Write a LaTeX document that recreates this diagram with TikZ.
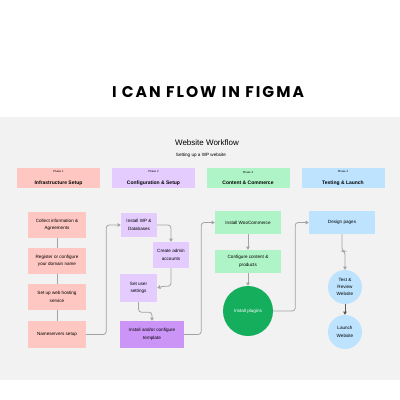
\documentclass[tikz,border=0pt]{standalone}
\usepackage{fontspec}
\setmainfont{Liberation Sans}
\newfontfamily\titlefont[LetterSpace=13]{Poppins}
\usetikzlibrary{arrows.meta}
\definecolor{canvas}{HTML}{F2F2F2}
\definecolor{pinkfill}{HTML}{FFC7C2}
\definecolor{lilac}{HTML}{E4CCFF}
\definecolor{violet}{HTML}{CB94F7}
\definecolor{mint}{HTML}{AFF4C6}
\definecolor{leaf}{HTML}{14AE5C}
\definecolor{sky}{HTML}{BDE3FF}
\definecolor{wire}{HTML}{A3A3A3}
\newcommand{\boxfont}{\fontsize{4.6}{7.4}\selectfont}
\newcommand{\phasehead}[2]{{\fontsize{2.8}{3}\selectfont #1}\\[-0.6pt]{\fontsize{5}{6}\selectfont\bfseries #2}}
\tikzset{
  task/.style={rectangle,align=center,font=\boxfont,inner sep=1pt,minimum height=24},
  phase/.style={rectangle,align=center,inner sep=0pt,minimum width=83,minimum height=20},
  bubble/.style={circle,align=center,font=\boxfont,inner sep=0pt},
  link/.style={draw=wire,line width=0.8pt,rounded corners=3pt},
  flow/.style={link,-{Triangle[length=3.2pt,width=3.6pt]}}
}
\begin{document}
\begin{tikzpicture}[x=1pt,y=-1pt]
		\useasboundingbox (0,0) rectangle (400,400);
		\fill[white] (0,0) rectangle (400,400);
		\fill[canvas] (0,117) rectangle (400,380);
		% headings
		\node (title) at (208,92) {\titlefont\fontsize{15.5}{18}\selectfont\bfseries I CAN FLOW IN FIGMA};
		\node (board) at (207,143) {\fontsize{8}{9}\selectfont Website Workflow};
		\node (sub) at (201,155) {\fontsize{4.6}{5}\selectfont Setting up a WP website};
		% phases
		\node[phase,fill=pinkfill] (p1) at (58.5,178) {\phasehead{Phase 1}{Infrastructure Setup}};
		\node[phase,fill=lilac] (p2) at (153.5,178) {\phasehead{Phase 2}{Configuration \& Setup}};
		\node[phase,fill=mint] (p3) at (248,178) {\phasehead{Phase 3}{Content \& Commerce}};
		\node[phase,fill=sky] (p4) at (343,178) {\phasehead{Phase 4}{Testing \& Launch}};
		% phase 1
		\node[task,fill=pinkfill,minimum width=58,minimum height=26] (info) at (57,225) {Collect information \&\\Agreements};
		\node[task,fill=pinkfill,minimum width=58,minimum height=26] (domain) at (57,261) {Register or configure\\your domain name};
		\node[task,fill=pinkfill,minimum width=58,minimum height=26] (hosting) at (57,297) {Set up web hosting\\service};
		\node[task,fill=pinkfill,minimum width=58,minimum height=27] (ns) at (57,334.5) {Nameservers setup};
		% phase 2
		\node[task,fill=lilac,minimum width=36] (wp) at (139,225) {Install WP \&\\Databases};
		\node[task,fill=lilac,minimum width=36,minimum height=26] (admin) at (171,255) {Create admin\\accounts};
		\node[task,fill=lilac,minimum width=37,minimum height=28] (user) at (138.5,288) {Set user\\settings};
		\node[task,fill=violet,minimum width=64,minimum height=27] (tmpl) at (152,334.5) {Install and/or configure\\template};
		% phase 3
		\node[task,fill=mint,minimum width=66,minimum height=23] (woo) at (248,222.5) {Install WooCommerce};
		\node[task,fill=mint,minimum width=66,minimum height=23] (content) at (248,261.5) {Configure content \&\\products};
		\node[bubble,fill=leaf,text=white,minimum size=50] (plugins) at (248,311) {Install plugins};
		% phase 4
		\node[task,fill=sky,minimum width=66,minimum height=23] (design) at (342,222.5) {Design pages};
		\node[bubble,fill=sky,minimum size=34] (review) at (345,287) {Test \&\\Review\\Website};
		\node[bubble,fill=sky,minimum size=34] (launch) at (345,332) {Launch\\Website};
		% connectors
		\draw[link] (info) -- (domain);
		\draw[link] (domain) -- (hosting);
		\draw[link] (hosting) -- (ns);
		\draw[flow] (ns.east) -- ++(20,0) |- (wp.west);
		\draw[flow] (wp.east) -| (admin.north);
		\draw[flow] (admin.south) |- ++(-8,18) -- (user.east);
		\draw[flow] (user.south) -- ++(0,10) -| (tmpl.north);
		\draw[flow] (tmpl.east) -- ++(17,0) |- (woo.west);
		\draw[flow] (woo) -- (content);
		\draw[flow] (content) -- (plugins);
		\draw[flow] (plugins.east) -- ++(22,0) |- (design.west);
		\draw[flow] (design.south) -- ++(0,17) -| (review.north);
		\draw[flow,draw=black!65] (review) -- (launch);
	\end{tikzpicture}
\end{document}
